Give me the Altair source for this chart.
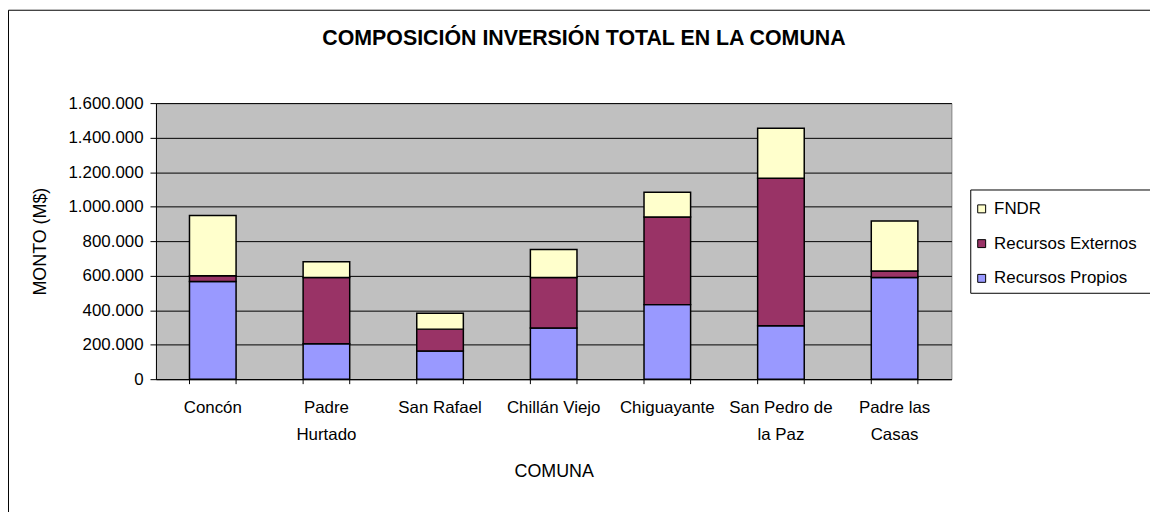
import altair as alt
import pandas as pd

comunas = ["Concón", "Padre Hurtado", "San Rafael", "Chillán Viejo",
           "Chiguayante", "San Pedro de la Paz", "Padre las Casas"]
label_lines = [["Concón"], ["Padre", "Hurtado"], ["San Rafael"], ["Chillán Viejo"],
               ["Chiguayante"], ["San Pedro de", "la Paz"], ["Padre las", "Casas"]]
propios = [566000, 205000, 163000, 297000, 432000, 309000, 589000]
externos = [34000, 384000, 127000, 292000, 508000, 856000, 38000]
fndr = [348000, 92000, 92000, 163000, 144000, 289000, 290000]
series = ["FNDR", "Recursos Externos", "Recursos Propios"]
colors = ["#FFFFCC", "#993366", "#9999FF"]
y_ticks = [0, 200000, 400000, 600000, 800000, 1000000, 1200000, 1400000, 1600000]
chart_title = "COMPOSICIÓN INVERSIÓN TOTAL EN LA COMUNA"

rows = []
for i, c in enumerate(comunas):
    rows.append({"comuna": c, "serie": "Recursos Propios", "monto": propios[i], "orden": 0})
    rows.append({"comuna": c, "serie": "Recursos Externos", "monto": externos[i], "orden": 1})
    rows.append({"comuna": c, "serie": "FNDR", "monto": fndr[i], "orden": 2})
df = pd.DataFrame(rows)
cat_df = pd.DataFrame({"comuna": comunas})
title_df = pd.DataFrame({"t": [chart_title]})

W, H = 801, 278
FONT = "Liberation Sans"

# multi-line x labels
expr = "datum.label"
for name, lines in reversed(list(zip(comunas, label_lines))):
    arr = "[" + ",".join("'" + l + "'" for l in lines) + "]"
    expr = f"datum.label == '{name}' ? {arr} : ({expr})"

x_scale = alt.Scale(paddingInner=0.59, paddingOuter=0.295)
x_axis = alt.Axis(labelExpr=expr, labelAngle=0, labelFontSize=17, labelColor="black",
                  labelPadding=21, labelBaseline="top", labelLineHeight=27,
                  ticks=False, tickSize=0, domainColor="black", grid=False,
                  titleFontSize=18, titleFontWeight="normal", titleColor="black",
                  titleY=93, titleBaseline="middle")

bars = alt.Chart(df).mark_bar(stroke="black", strokeWidth=1.5).encode(
    x=alt.X("comuna:N", sort=comunas, scale=x_scale, title="COMUNA", axis=x_axis),
    y=alt.Y("monto:Q", stack="zero", title="MONTO (M$)",
            scale=alt.Scale(domain=[0, 1600000], nice=False),
            axis=alt.Axis(values=y_ticks,
                          labelExpr="replace(replace(format(datum.value, ','), ',', '.'), ',', '.')",
                          labelFontSize=17, labelColor="black", labelPadding=7,
                          tickSize=6, tickColor="black", domainColor="black",
                          grid=True, gridColor="black", gridOpacity=1, gridWidth=1,
                          titleFontSize=18, titleFontWeight="normal", titleColor="black",
                          titleX=-116, titleY=H / 2, titleBaseline="middle")),
    color=alt.Color("serie:N", scale=alt.Scale(domain=series, range=colors),
                    legend=alt.Legend(orient="none", legendX=820, legendY=87,
                                      title=" ", titleFontSize=1, titlePadding=7,
                                      padding=3,
                                      symbolType="square", symbolSize=64,
                                      symbolStrokeColor="black", symbolStrokeWidth=1,
                                      labelFontSize=17, labelColor="black", labelLimit=400,
                                      rowPadding=17, labelOffset=4)),
    order=alt.Order("orden:Q"),
)

ticks0 = alt.Chart(cat_df).mark_rule(color="black").encode(
    x=alt.X("comuna:N", sort=comunas, scale=x_scale, bandPosition=0, title="COMUNA", axis=x_axis),
    y=alt.value(H), y2=alt.value(H + 5))
ticks1 = alt.Chart(cat_df).mark_rule(color="black").encode(
    x=alt.X("comuna:N", sort=comunas, scale=x_scale, bandPosition=1, title="COMUNA", axis=x_axis),
    y=alt.value(H), y2=alt.value(H + 5))

title_mark = alt.Chart(title_df).mark_text(fontSize=21.5, fontWeight="bold", align="center",
                                           baseline="alphabetic", color="black").encode(
    text="t:N", x=alt.value(431), y=alt.value(-59))

# legend frame (continues past the right edge, as in the reference)
legend_box = alt.Chart(title_df).mark_rect(fill="white", stroke="black", strokeWidth=1).encode(
    x=alt.value(820.5), x2=alt.value(1020), y=alt.value(87.5), y2=alt.value(191.5))

border_left = alt.Chart(title_df).mark_rule(color="black").encode(
    x=alt.value(-148.5), y=alt.value(-93.5), y2=alt.value(H + 140))
border_top = alt.Chart(title_df).mark_rule(color="black").encode(
    x=alt.value(-148.5), x2=alt.value(W + 210), y=alt.value(-93.5))

chart = alt.layer(legend_box, bars, ticks0, ticks1, title_mark, border_left, border_top).properties(
    width=W, height=H,
    padding={"left": 149, "top": 94, "right": 200, "bottom": 132},
    autosize=alt.AutoSizeParams(type="none"),
    background="white",
).configure(font=FONT).configure_view(fill="#C0C0C0", stroke="#808080", strokeWidth=1)

chart.save("out.html", embed_options={"renderer": "svg", "actions": False})
